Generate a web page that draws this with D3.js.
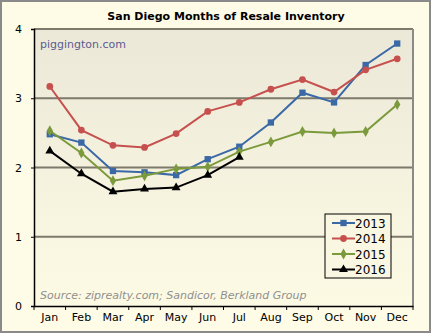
<!DOCTYPE html>
<html>
<head>
<meta charset="utf-8">
<script src="https://cdn.jsdelivr.net/npm/d3@7"></script>
<style>
  body { margin: 0; background: #fff; }
  svg { display: block; font-family: "DejaVu Sans", Verdana, sans-serif; }
</style>
</head>
<body>
<div id="chart"></div>
<script>
const months = ["Jan", "Feb", "Mar", "Apr", "May", "Jun", "Jul", "Aug", "Sep", "Oct", "Nov", "Dec"];
const yTicks = [0, 1, 2, 3, 4];
const years = ["2013", "2014", "2015", "2016"];
const v2013 = [2.48, 2.36, 1.95, 1.93, 1.89, 2.12, 2.30, 2.65, 3.08, 2.94, 3.48, 3.79];
const v2014 = [3.17, 2.54, 2.32, 2.29, 2.49, 2.81, 2.94, 3.13, 3.27, 3.09, 3.41, 3.57];
const v2015 = [2.53, 2.21, 1.81, 1.88, 1.98, 2.01, 2.23, 2.37, 2.52, 2.50, 2.52, 2.91];
const v2016 = [2.24, 1.91, 1.65, 1.69, 1.71, 1.89, 2.15];

const W = 432, H = 334;
const margin = { top: 29, right: 19, bottom: 28, left: 34 };
const iw = W - margin.left - margin.right;
const ih = H - margin.top - margin.bottom;

const series = [
  { name: years[0], values: v2013, color: "#3b69a6", shape: d3.symbolSquare, size: 40 },
  { name: years[1], values: v2014, color: "#c6504d", shape: d3.symbolCircle, size: 36 },
  { name: years[2], values: v2015, color: "#7b9a3c", shape: d3.symbolDiamond, size: 34 },
  { name: years[3], values: v2016, color: "#000000", shape: d3.symbolTriangle, size: 34 }
];

const svg = d3.select("#chart").append("svg")
  .attr("width", W).attr("height", H);

const defs = svg.append("defs");
const grad = defs.append("linearGradient").attr("id", "plotbg")
  .attr("x1", 0).attr("y1", 0).attr("x2", 0).attr("y2", 1);
grad.append("stop").attr("offset", "0%").attr("stop-color", "#ebe8d8");
grad.append("stop").attr("offset", "100%").attr("stop-color", "#fdfae4");

// outer frame
svg.append("rect").attr("x", 1).attr("y", 1).attr("width", W - 3).attr("height", H - 3)
  .attr("fill", "#fefbe7").attr("stroke", "#8a8a8a").attr("stroke-width", 2);

svg.append("text").attr("x", 226).attr("y", 20)
  .attr("text-anchor", "middle").style("font-size", "11px").style("font-weight", "bold")
  .text("San Diego Months of Resale Inventory");

const g = svg.append("g").attr("transform", `translate(${margin.left},${margin.top})`);

const x = d3.scaleBand().domain(months).range([0, iw]);
const y = d3.scaleLinear().domain([0, 4]).range([ih, 0]);

g.append("rect").attr("width", iw).attr("height", ih).attr("fill", "url(#plotbg)");

// grid
g.selectAll(".grid").data(yTicks.filter(d => d > 0)).join("line")
  .attr("x1", 0).attr("x2", iw)
  .attr("y1", d => y(d)).attr("y2", d => y(d))
  .attr("stroke", "#7d7a6c").attr("stroke-width", 2);
g.append("line").attr("x1", iw).attr("x2", iw).attr("y1", 0).attr("y2", ih)
  .attr("stroke", "#8a8a8a").attr("stroke-width", 2);

g.append("text").attr("x", 6).attr("y", 19)
  .style("font-size", "11px").attr("fill", "#5b5b8f").text("piggington.com");
g.append("text").attr("x", 6).attr("y", ih - 7)
  .style("font-size", "11px").style("font-style", "italic").attr("fill", "#8f8f8f")
  .text("Source: ziprealty.com; Sandicor, Berkland Group");

// axes
const yAxis = g.append("g")
  .call(d3.axisLeft(y).tickValues(yTicks).tickSize(3).tickPadding(9).tickFormat(d3.format("d")));
const xAxis = g.append("g").attr("transform", `translate(0,${ih})`)
  .call(d3.axisBottom(x).tickSize(0).tickPadding(7));
xAxis.selectAll(".bound").data(d3.range(13)).join("line")
  .attr("x1", d => d * x.step()).attr("x2", d => d * x.step())
  .attr("y1", 0).attr("y2", 4).attr("stroke", "#000");
[yAxis, xAxis].forEach(a => {
  a.select(".domain").attr("stroke", "#000").attr("stroke-width", 1.5);
  a.selectAll("text").style("font-size", "11px").attr("fill", "#000")
    .style("font-family", "DejaVu Sans, Verdana, sans-serif");
});

// lines
const line = d3.line().x((d, i) => x(months[i]) + x.bandwidth() / 2).y(d => y(d));
series.forEach(s => {
  g.append("path").datum(s.values).attr("d", line)
    .attr("fill", "none").attr("stroke", s.color).attr("stroke-width", 2);
  g.selectAll(null).data(s.values).join("path")
    .attr("transform", (d, i) => `translate(${x(months[i]) + x.bandwidth() / 2},${y(d)})`)
    .attr("d", d3.symbol(s.shape, s.size)).attr("fill", s.color);
});

// legend
const lg = svg.append("g").attr("transform", "translate(325,214)");
lg.append("rect").attr("width", 66).attr("height", 64)
  .attr("fill", "#f9f6e1").attr("stroke", "#000").attr("stroke-width", 1);
series.forEach((s, i) => {
  const row = lg.append("g").attr("transform", `translate(0,${9 + i * 15.5})`);
  row.append("line").attr("x1", 7).attr("x2", 30).attr("stroke", s.color).attr("stroke-width", 2);
  row.append("path").attr("transform", "translate(18.5,0)")
    .attr("d", d3.symbol(s.shape, s.size)).attr("fill", s.color);
  row.append("text").attr("x", 30).attr("y", 4.5).style("font-size", "12px").text(s.name);
});
</script>
</body>
</html>
